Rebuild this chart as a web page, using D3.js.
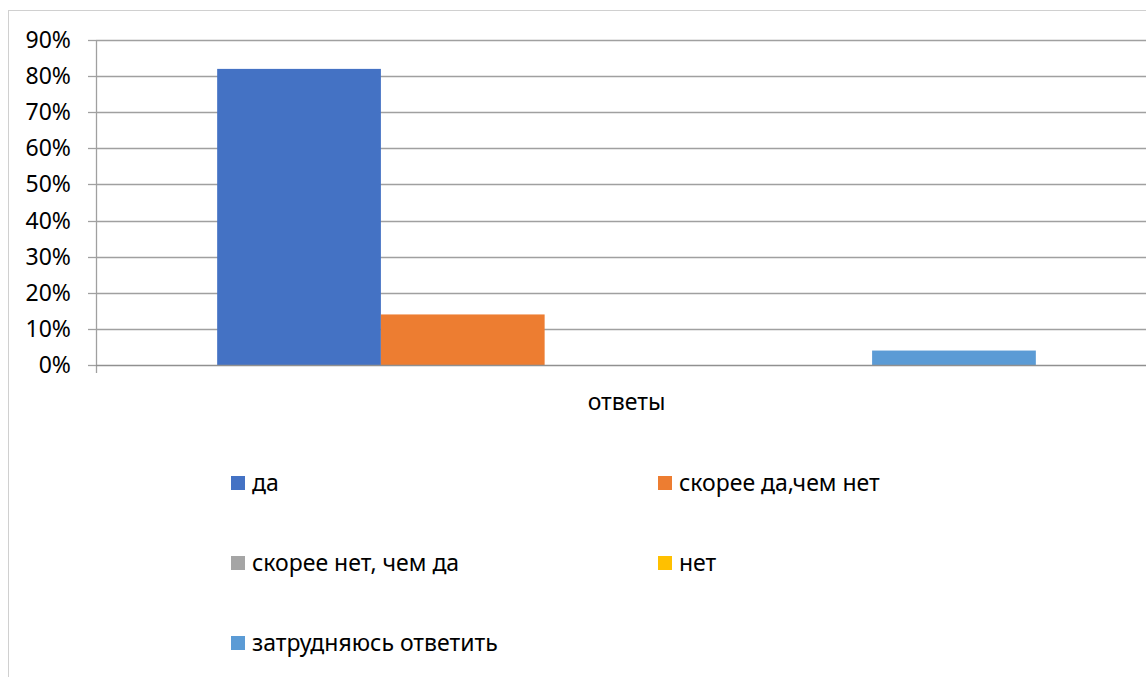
<!DOCTYPE html>
<html>
<head>
<meta charset="utf-8">
<title>ответы</title>
<script src="https://d3js.org/d3.v7.min.js"></script>
<style>
  body { margin: 0; background: #fff; }
  svg text { font-family: "Noto Sans", "Open Sans", sans-serif; fill: #000; }
</style>
</head>
<body>
<svg id="chart"></svg>
<script>
// data
const categories = ['ответы'];
const series = ['да', 'скорее да,чем нет', 'скорее нет, чем да', 'нет', 'затрудняюсь ответить'];
const values = [0.82, 0.14, 0, 0, 0.04];
const colors = ['#4472c4', '#ed7d31', '#a5a5a5', '#ffc000', '#5b9bd5'];
const yTicks = [0, 0.1, 0.2, 0.3, 0.4, 0.5, 0.6, 0.7, 0.8, 0.9];

const W = 1146, H = 677;
const svg = d3.select('#chart').attr('width', W).attr('height', H);

// chart frame (runs off the right and bottom edge)
svg.append('rect')
  .attr('x', 8.5).attr('y', 10.5)
  .attr('width', 1200).attr('height', 700)
  .style('fill', '#fff')
  .style('stroke', '#d0d0d0');

const plot = {left: 96, right: 1157, top: 40, bottom: 365};

const y = d3.scaleLinear().domain([0, 0.9]).range([plot.bottom, plot.top]);
const x0 = d3.scaleBand().domain(categories).range([plot.left, plot.right])
  .paddingInner(0).paddingOuter(0.148);
const x1 = d3.scaleBand().domain(series).range([0, x0.bandwidth()]);

// gridlines
svg.append('g').selectAll('line').data(yTicks.slice(1)).join('line')
  .attr('x1', plot.left).attr('x2', W)
  .attr('y1', d => Math.round(y(d)) + 0.5).attr('y2', d => Math.round(y(d)) + 0.5)
  .style('stroke', '#a0a0a0').style('stroke-width', 1.3);

// bars
const g = svg.append('g');
categories.forEach(c => {
  g.selectAll('rect.b').data(series).join('rect')
    .attr('x', s => x0(c) + x1(s))
    .attr('y', (s, i) => y(values[i]))
    .attr('width', x1.bandwidth())
    .attr('height', (s, i) => plot.bottom - y(values[i]))
    .style('fill', (s, i) => colors[i]);
});

// y axis
const yAxis = d3.axisLeft(y).tickValues(yTicks).tickFormat(d3.format('.0%'))
  .tickSize(8).tickPadding(17);
const ya = svg.append('g').attr('transform', `translate(${plot.left},0)`).call(yAxis);
ya.select('.domain').remove();
ya.selectAll('.tick line').style('stroke', '#a0a0a0').style('stroke-width', 1.3);
ya.selectAll('.tick text').style('font-size', '23px').style('fill', '#000');
ya.selectAll('.tick').attr('transform', d => `translate(0,${Math.round(y(d)) + 0.5})`);

svg.append('line')
  .attr('x1', plot.left + 0.5).attr('x2', plot.left + 0.5)
  .attr('y1', plot.top).attr('y2', plot.bottom + 8)
  .style('stroke', '#a0a0a0').style('stroke-width', 1.3);
svg.append('line')
  .attr('x1', plot.left).attr('x2', W)
  .attr('y1', Math.round(y(0)) + 0.5).attr('y2', Math.round(y(0)) + 0.5)
  .style('stroke', '#909090').style('stroke-width', 1.5);

// category label
svg.append('text')
  .attr('x', x0(categories[0]) + x0.bandwidth() / 2)
  .attr('y', 410)
  .attr('text-anchor', 'middle')
  .style('font-size', '23px')
  .text(categories[0]);

// legend
const legX = [231, 658], legY = [483, 563, 643];
const leg = svg.append('g').selectAll('g').data(series).join('g')
  .attr('transform', (s, i) => `translate(${legX[i % 2]},${legY[Math.floor(i / 2)]})`);
leg.append('rect')
  .attr('x', 0).attr('y', -7).attr('width', 14).attr('height', 14)
  .style('fill', (s, i) => colors[i]);
leg.append('text')
  .attr('x', 21).attr('y', 0).attr('dy', '0.35em')
  .style('font-size', '23px')
  .text(s => s);
</script>
</body>
</html>
